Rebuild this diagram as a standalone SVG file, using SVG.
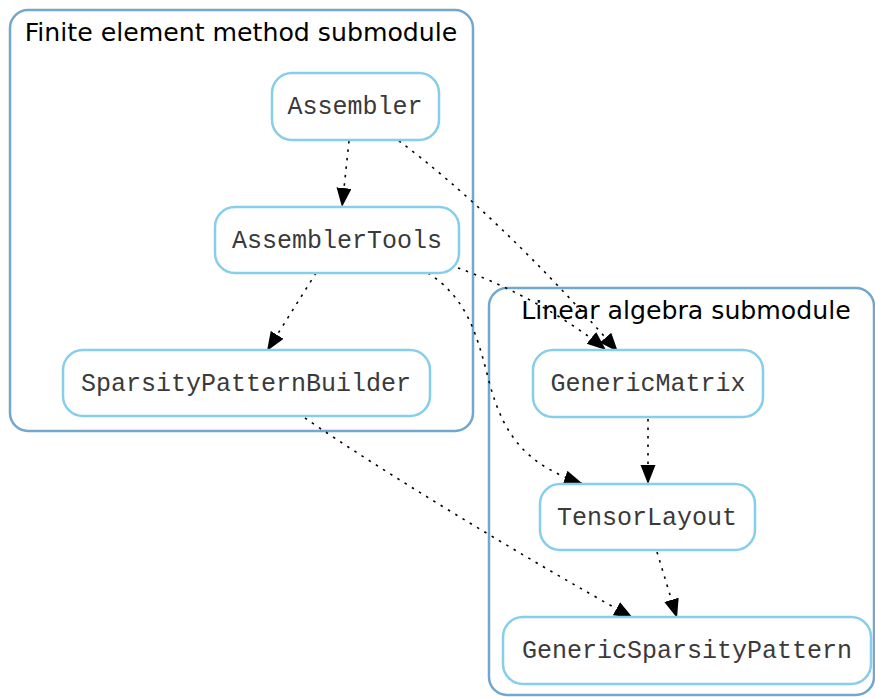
<svg xmlns="http://www.w3.org/2000/svg" width="875" height="698" viewBox="0 0 875 698">
<style>
.cluster{fill:none;stroke:#72a8cf;stroke-width:2.5}
.ctitle{font-family:"DejaVu Sans",sans-serif;font-size:25.2px;fill:#000;text-anchor:middle}
.node rect{fill:#fff;stroke:#87ceeb;stroke-width:2.5}
.node text{font-family:"Liberation Mono","Courier New",monospace;font-size:25px;fill:#3a3a3a;text-anchor:middle}
.edge{fill:none;stroke:#000;stroke-width:1.6;stroke-dasharray:2.5,6;marker-end:url(#arr)}
</style>
<defs>
<marker id="arr" markerUnits="userSpaceOnUse" markerWidth="20" markerHeight="16" refX="19" refY="7.5" orient="auto">
<path d="M0,0 L19,7.5 L0,15 z" fill="#000"/>
</marker>
</defs>
<g id="cluster_fem">
<rect class="cluster" x="10" y="10" width="463" height="421" rx="18"/>
<text class="ctitle" x="241" y="41">Finite element method submodule</text>
</g>
<g id="cluster_la">
<rect class="cluster" x="489" y="288" width="385" height="407" rx="18"/>
<text class="ctitle" x="686" y="319">Linear algebra submodule</text>
</g>
<g id="edges">
<path class="edge" d="M349,141 L342,207"/>
<path class="edge" d="M399,141 C460,186 540,262 618,352"/>
<path class="edge" d="M458,268 C500,283 560,312 606,350"/>
<path class="edge" d="M316,273 L267,351"/>
<path class="edge" d="M428,273 C470,300 478,340 490,385 C505,440 530,466 583,484"/>
<path class="edge" d="M305,418 C380,470 520,555 633,618"/>
<path class="edge" d="M648,419 L648,484"/>
<path class="edge" d="M657,552 L677,618"/>
</g>
<g id="node_assembler" class="node">
<rect x="272" y="73" width="167" height="67" rx="20"/>
<text x="355" y="114">Assembler</text>
</g>
<g id="node_assemblertools" class="node">
<rect x="215" y="207" width="244" height="66" rx="20"/>
<text x="337" y="248">AssemblerTools</text>
</g>
<g id="node_spb" class="node">
<rect x="63" y="350" width="367" height="66" rx="20"/>
<text x="246" y="391">SparsityPatternBuilder</text>
</g>
<g id="node_genericmatrix" class="node">
<rect x="533" y="350" width="230" height="67" rx="20"/>
<text x="648" y="391">GenericMatrix</text>
</g>
<g id="node_tensorlayout" class="node">
<rect x="540" y="484" width="215" height="66" rx="20"/>
<text x="647" y="525">TensorLayout</text>
</g>
<g id="node_gsp" class="node">
<rect x="503" y="617" width="368" height="67" rx="20"/>
<text x="687" y="658">GenericSparsityPattern</text>
</g>
</svg>
